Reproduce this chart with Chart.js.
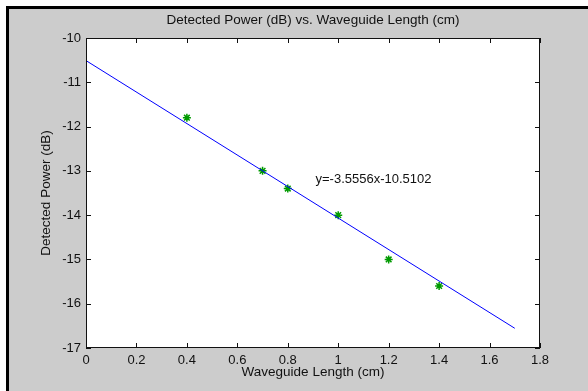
<!DOCTYPE html>
<html>
<head>
<meta charset="utf-8">
<script src="https://cdn.jsdelivr.net/npm/chart.js@4"></script>
<style>
  html, body { margin: 0; padding: 0; background: #fff; }
  #frame { position: absolute; left: 6px; top: 6px; right: 0; bottom: 0; background: #ccc; border-left: 3px solid #000; border-top: 3px solid #000; }
  #chart { position: absolute; left: 0; top: 0; }
</style>
</head>
<body>
<div id="frame"></div>
<canvas id="chart" width="588" height="391"></canvas>
<script>
// measured points
const lengths = [0.4, 0.7, 0.8, 1.0, 1.2, 1.4];
const powers = [-11.8, -13.0, -13.4, -14.0, -15.0, -15.6];

// ends of the fitted line
const fitLengths = [0, 1.7];
const fitPowers = [-10.51, -16.555];

const xTicks = [0, 0.2, 0.4, 0.6, 0.8, 1, 1.2, 1.4, 1.6, 1.8];
const xTickLabels = ['0', '0.2', '0.4', '0.6', '0.8', '1', '1.2', '1.4', '1.6', '1.8'];
const yTicks = [-17, -16, -15, -14, -13, -12, -11, -10];
const yTickLabels = ['-17', '-16', '-15', '-14', '-13', '-12', '-11', '-10'];

const fitText = 'y=-3.5556x-10.5102';
const fitTextAt = [0.91, -13.2];

Chart.defaults.font.family = '"Liberation Sans", Arial, sans-serif';
Chart.defaults.color = '#111';

// white axes box, inward ticks on all sides, equation text
const matlabAxes = {
    id: 'matlabAxes',
    beforeDatasetsDraw(chart) {
        const { ctx, chartArea: a } = chart;
        ctx.save();
        ctx.fillStyle = '#fff';
        ctx.fillRect(a.left, a.top, a.right - a.left, a.bottom - a.top);
        ctx.restore();
    },
    afterDatasetsDraw(chart) {
        const { ctx, chartArea: a, scales } = chart;
        ctx.save();
        ctx.strokeStyle = '#111';
        ctx.lineWidth = 1;
        ctx.beginPath();
        xTicks.forEach(v => {
            const px = Math.round(scales.x.getPixelForValue(v)) + 0.5;
            ctx.moveTo(px, a.bottom);
            ctx.lineTo(px, a.bottom - 5);
            ctx.moveTo(px, a.top);
            ctx.lineTo(px, a.top + 5);
        });
        yTicks.forEach(v => {
            const py = Math.round(scales.y.getPixelForValue(v)) + 0.5;
            ctx.moveTo(a.left, py);
            ctx.lineTo(a.left + 5, py);
            ctx.moveTo(a.right, py);
            ctx.lineTo(a.right - 5, py);
        });
        ctx.stroke();
        ctx.strokeRect(a.left + 0.5, a.top + 0.5, a.right - a.left - 1, a.bottom - a.top - 1);

        ctx.fillStyle = '#111';
        ctx.font = '13px "Liberation Sans", Arial, sans-serif';
        ctx.textAlign = 'left';
        ctx.textBaseline = 'middle';
        ctx.fillText(fitText, scales.x.getPixelForValue(fitTextAt[0]), scales.y.getPixelForValue(fitTextAt[1]));
        ctx.restore();
    }
};

new Chart(document.getElementById('chart'), {
    type: 'scatter',
    data: {
        datasets: [{
            label: 'fit',
            data: fitLengths.map((x, i) => ({ x: x, y: fitPowers[i] })),
            showLine: true,
            borderColor: '#0000ff',
            borderWidth: 1,
            pointRadius: 0
        }, {
            label: 'measured',
            data: lengths.map((x, i) => ({ x: x, y: powers[i] })),
            pointStyle: 'star',
            pointRadius: 4,
            borderColor: '#009a00',
            backgroundColor: '#009a00',
            borderWidth: 1.5
        }]
    },
    options: {
        responsive: false,
        animation: false,
        layout: { padding: { left: 0, right: 48, top: 0, bottom: 0 } },
        plugins: {
            legend: { display: false },
            tooltip: { enabled: false },
            title: {
                display: true,
                text: 'Detected Power (dB) vs. Waveguide Length (cm)',
                fullSize: false,
                color: '#111',
                font: { size: 13.5, weight: 'normal' },
                padding: { top: 11.9, bottom: 9.9 }
            }
        },
        scales: {
            x: {
                type: 'linear',
                min: 0,
                max: 1.8,
                grid: { display: false, drawTicks: false },
                border: { display: false },
                afterBuildTicks: s => { s.ticks = xTicks.map(v => ({ value: v })); },
                afterFit: s => { s.height = 43; },
                ticks: {
                    padding: 5,
                    maxRotation: 0,
                    font: { size: 13 },
                    callback: (v, i) => xTickLabels[i]
                },
                title: {
                    display: true,
                    text: 'Waveguide Length (cm)',
                    font: { size: 13.5 },
                    padding: { top: 0, bottom: 10.9 }
                }
            },
            y: {
                type: 'linear',
                min: -17,
                max: -10,
                grid: { display: false, drawTicks: false },
                border: { display: false },
                afterBuildTicks: s => { s.ticks = yTicks.map(v => ({ value: v })); },
                afterFit: s => { s.width = 86; },
                ticks: {
                    padding: 5,
                    font: { size: 13 },
                    callback: (v, i) => yTickLabels[i]
                },
                title: {
                    display: true,
                    text: 'Detected Power (dB)',
                    font: { size: 13.5 },
                    padding: { top: 37.9, bottom: 0 }
                }
            }
        }
    },
    plugins: [matlabAxes]
});
</script>
</body>
</html>
